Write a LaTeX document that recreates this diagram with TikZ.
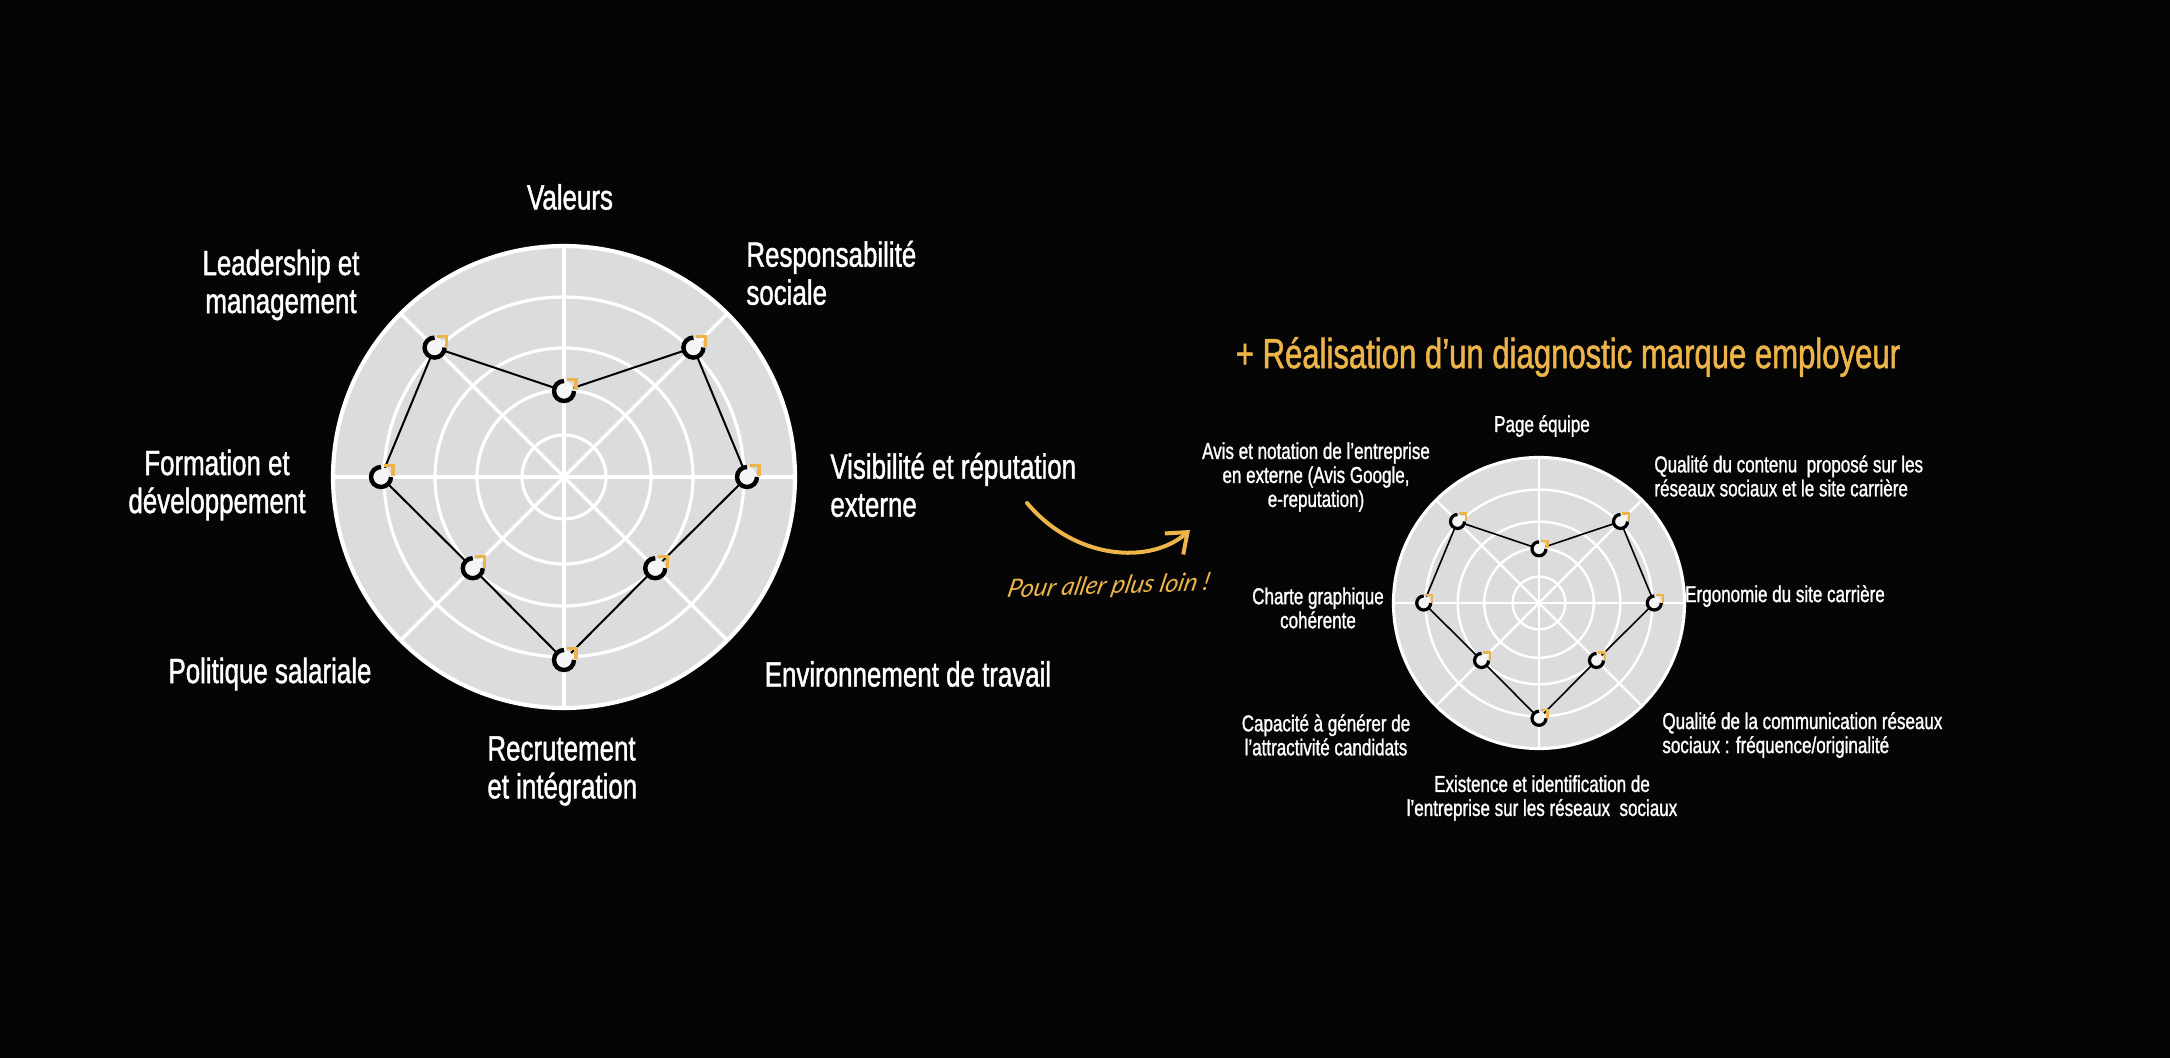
\documentclass[tikz,border=0pt]{standalone}
\usepackage{fontspec}
\setmainfont[FakeStretch=0.74,FakeBold=1.2]{Liberation Sans}
\newfontfamily\hand[FakeSlant=0.25]{Lato Italic}
\usetikzlibrary{arrows.meta}
\definecolor{bg}{HTML}{050505}
\definecolor{disk}{HTML}{DCDCDC}
\definecolor{gold}{HTML}{EDB44A}
\tikzset{
  biglab/.style={text=white, font=\fontsize{17.5}{19}\selectfont, inner sep=0pt},
  smalllab/.style={text=white, font=\fontsize{11.5}{12}\selectfont, inner sep=0pt},
}
% \radarchart{cx}{cy}{scale}{prefix}{ringwidth}{polywidth}{markr}{markw}
\newcommand{\radarchart}[8]{%
  \fill[disk] (#1,#2) circle[radius={230*#3}];
  \draw[white, line width=#5*1.3] (#1,#2) circle[radius={231*#3}];
  \foreach \rr in {42,87,129,180}{\draw[white, line width=#5] (#1,#2) circle[radius={\rr*#3}];}
  \foreach \aa in {0,45,...,135}{\draw[white, line width=#5] ({#1+230*#3*cos(\aa)},{#2-230*#3*sin(\aa)}) -- ({#1-230*#3*cos(\aa)},{#2+230*#3*sin(\aa)});}
  \foreach \aa/\rr/\nn in {90/86/1,45/183/2,0/183/3,-45/129/4,-90/183/5,-135/129/6,180/183/7,135/183/8}{%
    \coordinate (#4\nn) at ({#1+\rr*#3*cos(\aa)},{#2-\rr*#3*sin(\aa)});}
  \draw[black, line width=#6] (#41)--(#42)--(#43)--(#44)--(#45)--(#46)--(#47)--(#48)--cycle;
  \foreach \nn in {1,...,8}{%
    \fill[white!92!gray] (#4\nn) circle[radius=#7];
    \draw[black, line width=#8] ([shift={(#7,0)}]#4\nn) arc[start angle=0, end angle=270, radius=#7];
    \draw[gold, line width=#8*0.7] ([shift={(#7*0.25,{-#7*1.15})}]#4\nn) -- ++({#7*0.95},0) -- ++(0,{#7*1.1});}
}
\begin{document}
\begin{tikzpicture}[x=0.5pt,y=-0.5pt]
\fill[bg] (0,0) rectangle (2170,1058);
\useasboundingbox (0,0) rectangle (2170,1058);
\radarchart{564}{477}{1}{L}{1.6pt}{1pt}{10}{2.2pt}
\radarchart{1539}{603}{0.63}{R}{1.2pt}{0.8pt}{7}{1.6pt}
% left labels
\node[biglab] (v) at (570,197) {Valeurs};
\node[biglab, align=center] (lead) at (281,285) {Leadership et\\management};
\node[biglab, align=left, anchor=west] (resp) at (746,273) {Responsabilité\\sociale};
\node[biglab, align=left, anchor=west] (vis) at (830,485) {Visibilité et réputation\\externe};
\node[biglab, align=center] (form) at (217,485) {Formation et\\développement};
\node[biglab] (pol) at (270,674) {Politique salariale};
\node[biglab] (env) at (908,674) {Environnement de travail};
\node[biglab, align=left, anchor=west] (rec) at (487,771) {Recrutement\\et intégration};
% title
\node[text=gold, font=\fontsize{21}{24}\selectfont, inner sep=0pt] (title) at (1568,357) {+ Réalisation d’un diagnostic marque employeur};
% arrow
\coordinate (as) at (1027,503);
\coordinate (ae) at (1190,530);
\draw[gold, line width=2pt, line cap=round, -{Straight Barb[length=9pt,width=14pt,line width=2pt]}] (as) .. controls (1075,560) and (1150,565) .. (ae);
\node[text=gold, font=\hand\fontsize{12.5}{14}\selectfont, rotate=2] (pour) at (1107,587) {Pour aller plus loin !};
% right labels
\node[smalllab] (p1) at (1542,426) {Page équipe};
\node[smalllab, align=center] (p8) at (1316,477) {Avis et notation de l’entreprise\\en externe (Avis Google,\\e-reputation)};
\node[smalllab, align=left, anchor=west] (p2) at (1654,476) {Qualité du contenu\ \ proposé sur les\\réseaux sociaux et le site carrière};
\node[smalllab] (p3) at (1785,596) {Ergonomie du site carrière};
\node[smalllab, align=center] (p7) at (1318,608) {Charte graphique\\cohérente};
\node[smalllab, align=center] (p6) at (1326,735) {Capacité à générer de\\l’attractivité candidats};
\node[smalllab, align=left, anchor=west] (p4) at (1662,735) {Qualité de la communication réseaux\\sociaux : fréquence/originalité};
\node[smalllab, align=center] (p5) at (1542,798) {Existence et identification de\\l’entreprise sur les réseaux\ \ sociaux};
\end{tikzpicture}
\end{document}
